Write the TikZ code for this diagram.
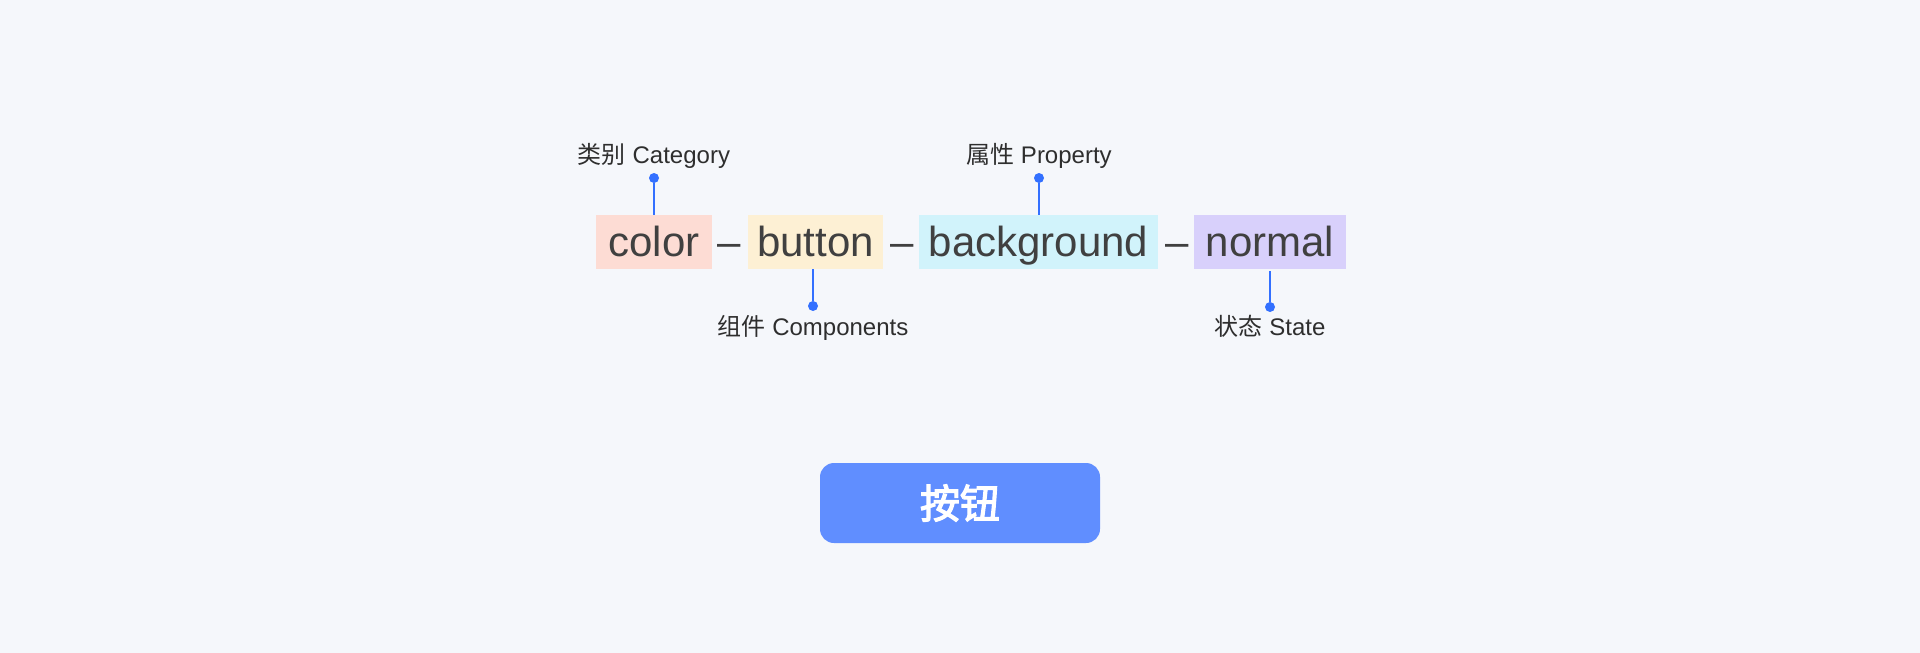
\documentclass[tikz,border=0pt]{standalone}
\usepackage{fontspec}
\setmainfont{Liberation Sans}
\newfontfamily\cjk{Noto Sans CJK SC}
\newfontfamily\cjkheavy[FakeBold=3]{Noto Sans CJK SC}
\usetikzlibrary{calc}

\definecolor{pagebg}{HTML}{F5F7FB}
\definecolor{wordgray}{HTML}{404040}
\definecolor{taggray}{HTML}{2E2E2E}
\definecolor{leadblue}{HTML}{3370FF}
\definecolor{btnblue}{HTML}{608EFF}
\definecolor{catfill}{HTML}{FDDCD4}
\definecolor{compfill}{HTML}{FDF0D4}
\definecolor{propfill}{HTML}{D1F3FB}
\definecolor{statefill}{HTML}{D8D0FB}

\begin{document}
\begin{tikzpicture}[x=1pt,y=-1pt,
  word/.style={inner sep=0pt,minimum height=54pt,text height=31pt,text depth=1.6pt,
    font=\fontsize{42}{50}\selectfont,text=wordgray},
  sep/.style={anchor=base,inner sep=0pt,font=\fontsize{42}{50}\selectfont,text=wordgray},
  tag/.style={anchor=base,inner sep=0pt,font=\fontsize{24}{28}\selectfont,text=taggray},
  dot/.style={circle,fill=leadblue,inner sep=0pt,minimum size=10pt},
  lead/.style={line width=2pt,draw=leadblue}]
\useasboundingbox[fill=pagebg] (0,0) rectangle (1920,653);

% the token name
\node[word,fill=catfill,minimum width=116pt] (color) at (654,242) {color};
\node[word,fill=compfill,minimum width=135pt] (button) at (815.5,242) {button};
\node[word,fill=propfill,minimum width=239pt] (background) at (1038.5,242) {background};
\node[word,fill=statefill,minimum width=152pt] (normal) at (1270,242) {normal};
\node[sep] (dash1) at (729,256.7) {–};
\node[sep] (dash2) at (902,256.7) {–};
\node[sep] (dash3) at (1177,256.7) {–};

% labels above
\node[dot] (catdot) at (654,178) {};
\node[tag] (cattag) at (654,163) {{\cjk 类别} Category};
\draw[lead] (catdot) -- (catdot |- color.north);
\node[dot] (propdot) at (1039,178) {};
\node[tag] (proptag) at (1039,163) {{\cjk 属性} Property};
\draw[lead] (propdot) -- (propdot |- background.north);

% labels below
\node[dot] (compdot) at (813,306) {};
\node[tag] (comptag) at (813,335) {{\cjk 组件} Components};
\draw[lead] (compdot) -- (compdot |- button.south);
\node[dot] (statedot) at (1270,307) {};
\node[tag] (statetag) at (1270,335) {{\cjk 状态} State};
\draw[lead] (statedot) -- ($(statedot |- normal.south)+(0,2)$);

% sample button
\node[fill=btnblue,rounded corners=14pt,minimum width=280pt,minimum height=80pt,
  text=white,font=\fontsize{40}{48}\selectfont\cjkheavy] (demo) at (960,503) {按钮};
\end{tikzpicture}
\end{document}
